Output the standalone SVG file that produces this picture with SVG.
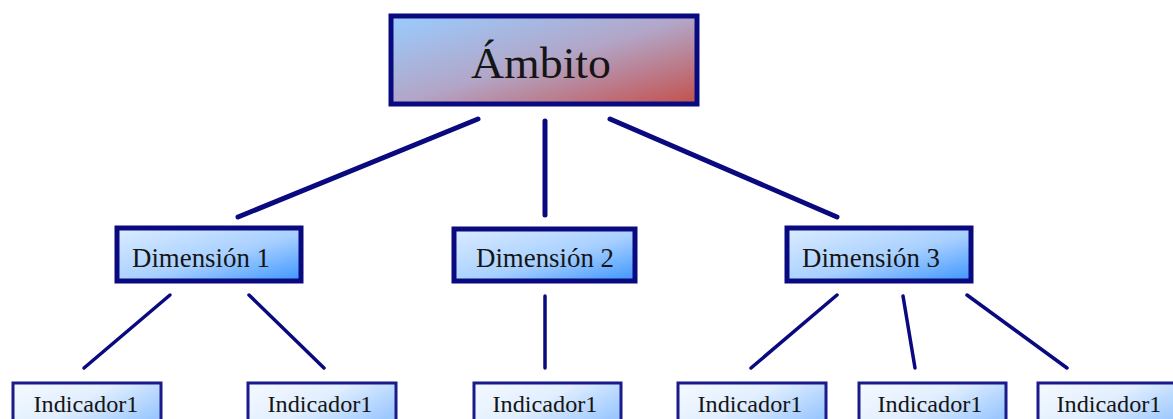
<svg xmlns="http://www.w3.org/2000/svg" width="1173" height="419" viewBox="0 0 1173 419">
<defs>
<linearGradient id="gTop" x1="0" y1="0" x2="1" y2="1">
<stop offset="0" stop-color="#99ccff"/>
<stop offset="0.5" stop-color="#b2a6c8"/>
<stop offset="1" stop-color="#c4504c"/>
</linearGradient>
<linearGradient id="gDim" x1="0" y1="0" x2="1" y2="1">
<stop offset="0" stop-color="#dcecff"/>
<stop offset="0.55" stop-color="#a8d0ff"/>
<stop offset="1" stop-color="#3d95ff"/>
</linearGradient>
<linearGradient id="gInd" x1="0" y1="0" x2="1" y2="0.6">
<stop offset="0" stop-color="#f4f9ff"/>
<stop offset="0.5" stop-color="#e2efff"/>
<stop offset="1" stop-color="#9cc8ff"/>
</linearGradient>
<style>
.top{fill:url(#gTop);stroke:#0a0a80;stroke-width:5}
.dim{fill:url(#gDim);stroke:#0a0a80;stroke-width:5}
.ind{fill:url(#gInd);stroke:#1a1a8c;stroke-width:3}
.t{font-family:"Liberation Serif","Times New Roman",serif;fill:#151515;text-anchor:middle}
.conn line{stroke:#0a0a80;stroke-linecap:round}
.c1{stroke-width:5}
.c2{stroke-width:3.5}
</style>
</defs>
<g class="conn" id="connectors">
<line class="c1" x1="478" y1="119" x2="238" y2="217"/>
<line class="c1" x1="545" y1="121" x2="545" y2="215"/>
<line class="c1" x1="610" y1="119" x2="837" y2="217"/>
<line class="c2" x1="170" y1="295" x2="84" y2="368"/>
<line class="c2" x1="249" y1="295" x2="324" y2="368"/>
<line class="c2" x1="545" y1="296" x2="545" y2="368"/>
<line class="c2" x1="837" y1="295" x2="751" y2="368"/>
<line class="c2" x1="903" y1="296" x2="915" y2="368"/>
<line class="c2" x1="967" y1="295" x2="1067" y2="368"/>
</g>
<g id="ambito">
<rect class="top" x="391" y="16" width="306" height="88"/>
<text class="t" x="541" y="78" font-size="44" textLength="140" lengthAdjust="spacingAndGlyphs">Ámbito</text>
</g>
<g id="dim1">
<rect class="dim" x="117" y="228" width="184" height="53"/>
<text class="t" x="201" y="267" font-size="27" textLength="138" lengthAdjust="spacingAndGlyphs">Dimensión 1</text>
</g>
<g id="dim2">
<rect class="dim" x="454" y="229" width="181" height="52"/>
<text class="t" x="545" y="267" font-size="27" textLength="138" lengthAdjust="spacingAndGlyphs">Dimensión 2</text>
</g>
<g id="dim3">
<rect class="dim" x="787" y="228" width="184" height="53"/>
<text class="t" x="871" y="267" font-size="27" textLength="138" lengthAdjust="spacingAndGlyphs">Dimensión 3</text>
</g>
<g id="ind1">
<rect class="ind" x="13" y="383" width="148" height="50"/>
<text class="t" x="86" y="412" font-size="23" textLength="105" lengthAdjust="spacingAndGlyphs">Indicador1</text>
</g>
<g id="ind2">
<rect class="ind" x="248" y="383" width="148" height="50"/>
<text class="t" x="320" y="412" font-size="23" textLength="105" lengthAdjust="spacingAndGlyphs">Indicador1</text>
</g>
<g id="ind3">
<rect class="ind" x="474" y="383" width="147" height="50"/>
<text class="t" x="545" y="412" font-size="23" textLength="105" lengthAdjust="spacingAndGlyphs">Indicador1</text>
</g>
<g id="ind4">
<rect class="ind" x="678" y="383" width="148" height="50"/>
<text class="t" x="750" y="412" font-size="23" textLength="105" lengthAdjust="spacingAndGlyphs">Indicador1</text>
</g>
<g id="ind5">
<rect class="ind" x="859" y="383" width="147" height="50"/>
<text class="t" x="930" y="412" font-size="23" textLength="105" lengthAdjust="spacingAndGlyphs">Indicador1</text>
</g>
<g id="ind6">
<rect class="ind" x="1038" y="383" width="148" height="50"/>
<text class="t" x="1109" y="412" font-size="23" textLength="105" lengthAdjust="spacingAndGlyphs">Indicador1</text>
</g>
</svg>
